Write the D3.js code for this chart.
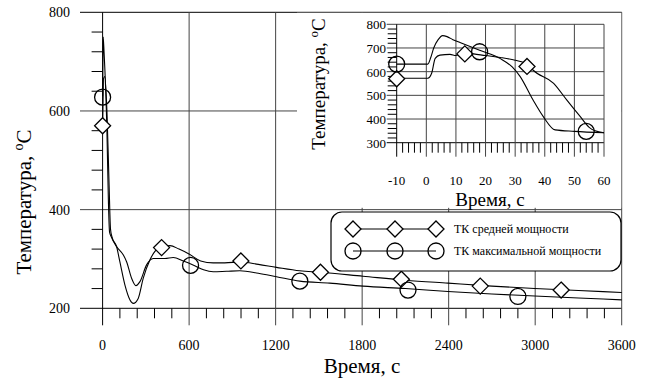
<!DOCTYPE html>
<html>
<head>
<meta charset="utf-8">
<script src="https://cdn.jsdelivr.net/npm/d3@7"></script>
<style>
  body { margin: 0; background: #fff; }
  text { font-family: "Liberation Serif", "DejaVu Serif", serif; font-weight: normal; }
</style>
</head>
<body>
<svg id="chart" width="650" height="380"></svg>
<script>
// main chart: [time s, temperature C]
const mainMax = [[0,630],[2,700],[4,750],[10,720],[30,560],[40,420],[48,355],[60,345],[97,325],[144,308],[167,294],[201,261],[231,246],[259,254],[305,288],[351,301],[432,301],[490,303],[560,296],[627,288],[700,278],[767,274],[860,275],[952,276],[1080,271],[1206,264],[1368,255],[1575,251],[1806,245],[2100,240],[2395,234],[2700,229],[2996,225],[3300,221],[3600,217]];
const mainAvg = [[0,570],[3,620],[6,665],[15,670],[30,600],[45,450],[55,360],[65,345],[97,325],[120,294],[155,247],[190,217],[213,210],[247,220],[282,261],[328,298],[386,321],[467,327],[530,320],[599,310],[680,296],[767,292],[847,292],[959,294],[1080,289],[1206,283],[1368,276],[1511,273],[1806,265],[2100,257],[2395,251],[2700,245],[2996,240],[3300,236],[3600,232]];
const mainMaxMarks = [[0,628],[610,287],[1368,255],[2118,237],[2880,224]];
const mainAvgMarks = [[0,570],[409,323],[959,296],[1511,273],[2072,259],[2619,245],[3180,237]];

// inset: first minute
const insetMax = [[-10,632],[0.5,632],[1.5,660],[2.5,700],[4,735],[5.5,752],[7,748],[9,735],[12,720],[18,690],[25,655],[29,620],[31.7,579],[36,481],[39.5,410],[43.5,354],[50,348],[60,342]];
const insetAvg = [[-10,572],[0.5,572],[1.8,593],[3,656],[4.6,670],[8,673],[10,668],[12.5,680],[16,675],[20,668],[25,660],[30,648],[34.5,628],[36,607],[43,551],[47.4,481],[52,410],[55,365],[57,350],[60,342]];
const insetMaxMarks = [[-10,632],[18,684],[54,348]];
const insetAvgMarks = [[-10,570],[13,675],[34,622]];

const mainXTicks = [0, 600, 1200, 1800, 2400, 3000, 3600];
const mainYTicks = [200, 400, 600, 800];
const insetXTicks = [-10, 0, 10, 20, 30, 40, 50, 60];
const insetYTicks = [300, 400, 500, 600, 700, 800];
const legendNames = ['ТК средней мощности', 'ТК максимальной мощности'];

const svg = d3.select('#chart');
const grid = '#444';

function diamond(g, x, y, r) {
  g.append('path')
    .attr('d', `M${x},${y - r}L${x + r},${y}L${x},${y + r}L${x - r},${y}Z`)
    .attr('fill', '#fff').attr('stroke', '#000').attr('stroke-width', 1.3);
}
function ring(g, x, y, r) {
  g.append('circle').attr('cx', x).attr('cy', y).attr('r', r)
    .attr('fill', 'none').attr('stroke', '#000').attr('stroke-width', 1.3);
}

// ---------- main chart ----------
const x = d3.scaleLinear().domain([0, 3600]).range([102.6, 621.7]);
const y = d3.scaleLinear().domain([200, 800]).range([308.3, 12.3]);
const main = svg.append('g');

// minor ticks
d3.range(0, 3600, 120).filter(v => v % 600 !== 0).forEach(v => {
  main.append('line').attr('x1', x(v)).attr('x2', x(v)).attr('y1', y(200)).attr('y2', y(200) + 10)
    .attr('stroke', '#000');
});
d3.range(200, 800, 40).filter(v => v % 200 !== 0).forEach(v => {
  main.append('line').attr('x1', x(0) - 11).attr('x2', x(0)).attr('y1', y(v)).attr('y2', y(v))
    .attr('stroke', '#000');
});
// grid
mainYTicks.forEach(v => {
  main.append('line').attr('x1', 80).attr('x2', x(3600)).attr('y1', y(v)).attr('y2', y(v))
    .attr('stroke', v === 200 || v === 800 ? '#000' : grid);
});
mainXTicks.forEach(v => {
  main.append('line').attr('x1', x(v)).attr('x2', x(v)).attr('y1', y(800)).attr('y2', y(200) + 17)
    .attr('stroke', v === 0 ? '#000' : grid);
});
// tick labels
main.selectAll('.xl').data(mainXTicks).enter().append('text')
  .attr('x', d => x(d)).attr('y', 350).attr('text-anchor', 'middle')
  .attr('font-size', 14).text(d => d);
main.selectAll('.yl').data(mainYTicks).enter().append('text')
  .attr('x', 70).attr('y', d => y(d) + 5).attr('text-anchor', 'end')
  .attr('font-size', 14).text(d => d);
main.append('text').attr('x', 362).attr('y', 373).attr('text-anchor', 'middle')
  .attr('font-size', 21).text('Время, с');
const yt = main.append('text').attr('transform', 'translate(31,202) rotate(-90)')
  .attr('text-anchor', 'middle').attr('font-size', 21);
yt.append('tspan').text('Температура, ');
yt.append('tspan').attr('font-size', 14).attr('dy', -8).text('o');
yt.append('tspan').attr('dy', 8).text('C');

const line = d3.line().x(d => x(d[0])).y(d => y(d[1])).curve(d3.curveMonotoneX);
[mainMax, mainAvg].forEach(s => {
  main.append('path').attr('d', line(s)).attr('fill', 'none').attr('stroke', '#000').attr('stroke-width', 1.1);
});
mainAvgMarks.forEach(d => diamond(main, x(d[0]), y(d[1]), 8));
mainMaxMarks.forEach(d => ring(main, x(d[0]), y(d[1]), 8));

// ---------- inset ----------
const ins = svg.append('g');
ins.append('rect').attr('x', 297).attr('y', 12.8).attr('width', 324.2).attr('height', 195)
  .attr('fill', '#fff');
const ix = d3.scaleLinear().domain([-10, 60]).range([396.7, 604]);
const iy = d3.scaleLinear().domain([300, 800]).range([142.7, 24.3]);

d3.range(-10, 60, 2).filter(v => (v + 10) % 10 !== 0).forEach(v => {
  ins.append('line').attr('x1', ix(v)).attr('x2', ix(v)).attr('y1', iy(300)).attr('y2', iy(300) + 10)
    .attr('stroke', '#000');
});
d3.range(300, 800, 20).filter(v => v % 100 !== 0).forEach(v => {
  ins.append('line').attr('x1', ix(-10) - 9).attr('x2', ix(-10)).attr('y1', iy(v)).attr('y2', iy(v))
    .attr('stroke', '#000');
});
insetYTicks.forEach(v => {
  ins.append('line').attr('x1', ix(-10) - 10).attr('x2', ix(60)).attr('y1', iy(v)).attr('y2', iy(v))
    .attr('stroke', v === 300 ? '#000' : grid);
});
insetXTicks.forEach(v => {
  ins.append('line').attr('x1', ix(v)).attr('x2', ix(v)).attr('y1', iy(800)).attr('y2', iy(300) + 14)
    .attr('stroke', v === -10 ? '#000' : grid);
});
ins.selectAll('.xl').data(insetXTicks).enter().append('text')
  .attr('x', d => ix(d)).attr('y', 185).attr('text-anchor', 'middle')
  .attr('font-size', 13).text(d => d);
ins.selectAll('.yl').data(insetYTicks).enter().append('text')
  .attr('x', 386).attr('y', d => iy(d) + 5).attr('text-anchor', 'end')
  .attr('font-size', 13).text(d => d);
ins.append('text').attr('x', 490).attr('y', 206).attr('text-anchor', 'middle')
  .attr('font-size', 19).text('Время, с');
const it = ins.append('text').attr('transform', 'translate(325,84) rotate(-90)')
  .attr('text-anchor', 'middle').attr('font-size', 19);
it.append('tspan').text('Температура, ');
it.append('tspan').attr('font-size', 13).attr('dy', -7).text('o');
it.append('tspan').attr('dy', 7).text('C');

const iline = d3.line().x(d => ix(d[0])).y(d => iy(d[1])).curve(d3.curveMonotoneX);
[insetMax, insetAvg].forEach(s => {
  ins.append('path').attr('d', iline(s)).attr('fill', 'none').attr('stroke', '#000').attr('stroke-width', 1.1);
});
insetAvgMarks.forEach(d => diamond(ins, ix(d[0]), iy(d[1]), 8));
insetMaxMarks.forEach(d => ring(ins, ix(d[0]), iy(d[1]), 8));

// ---------- legend ----------
const lg = svg.append('g');
lg.append('rect').attr('x', 331).attr('y', 212).attr('width', 290).attr('height', 59).attr('rx', 11)
  .attr('fill', '#fff').attr('stroke', '#000').attr('stroke-width', 1.2);
const lx = [353, 395, 436];
legendNames.forEach((name, i) => {
  const ly = 229 + i * 22;
  lg.append('line').attr('x1', lx[0]).attr('x2', lx[2]).attr('y1', ly).attr('y2', ly).attr('stroke', '#000');
  lx.forEach(px => (i === 0 ? diamond(lg, px, ly, 8) : ring(lg, px, ly, 8)));
  lg.append('text').attr('x', 454).attr('y', ly + 4).attr('font-size', 12).text(name);
});
</script>
</body>
</html>
